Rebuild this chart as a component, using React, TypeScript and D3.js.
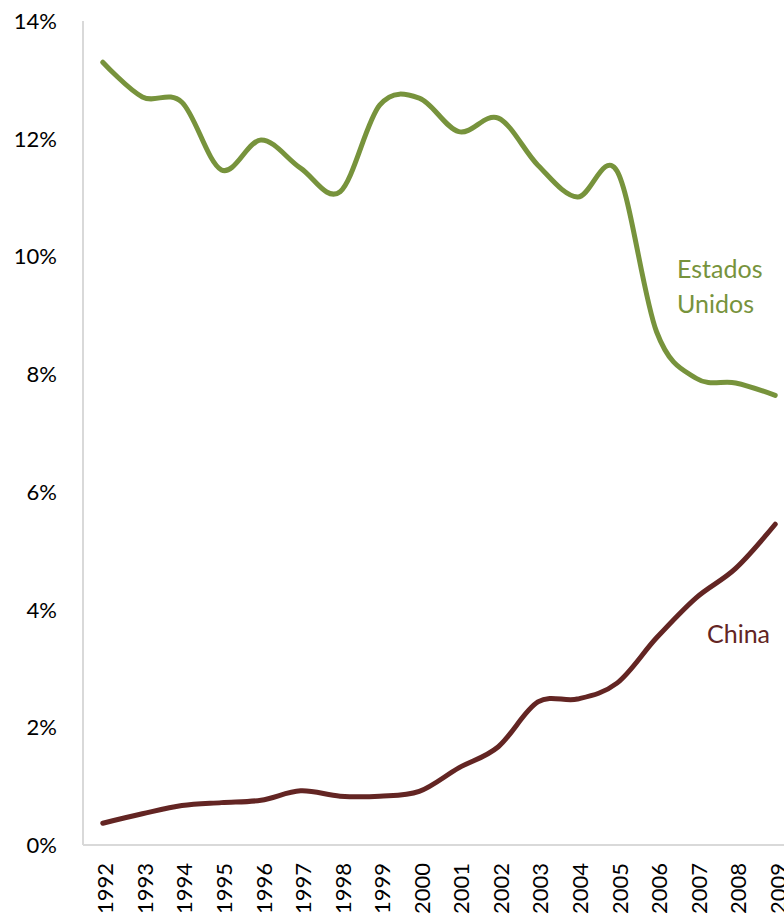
import React from "react";
import * as d3 from "d3";

const years = [1992,1993,1994,1995,1996,1997,1998,1999,2000,2001,2002,2003,2004,2005,2006,2007,2008,2009];
const estadosUnidos = [13.30,12.71,12.62,11.47,11.98,11.50,11.10,12.57,12.69,12.12,12.35,11.55,11.01,11.45,8.72,7.93,7.85,7.64];
const china = [0.37,0.53,0.67,0.72,0.76,0.92,0.83,0.83,0.91,1.31,1.67,2.43,2.48,2.75,3.52,4.20,4.70,5.45];
const yTicks = [0,2,4,6,8,10,12,14];

const W = 784, H = 918;
const FONT = "Lato, 'Open Sans', sans-serif";
const GREEN = "#77933C";
const BROWN = "#632523";

export default function App() {
  const x = d3.scaleBand<number>().domain(years).range([83, 795]);
  const cx = (yr: number) => (x(yr) as number) + x.bandwidth() / 2;
  const y = d3.scaleLinear().domain([0, 14]).range([845, 21]);
  const line = d3
    .line<number>()
    .x((_, i) => cx(years[i]))
    .y((d) => y(d))
    .curve(d3.curveCardinal.tension(0));

  return (
    <svg width={W} height={H} style={{ position: "absolute", left: 0, top: 0, background: "#fff" }}>
      <line x1={83} x2={83} y1={y(14)} y2={y(0)} stroke="#D9D9D9" strokeWidth={2} />
      <line x1={83} x2={W} y1={y(0)} y2={y(0)} stroke="#D9D9D9" strokeWidth={2} />
      {yTicks.map((t) => (
        <text key={t} x={57} y={y(t) + 8} textAnchor="end" fontFamily={FONT} fontSize={22} fill="#000">
          {t}%
        </text>
      ))}
      {years.map((yr) => (
        <text
          key={yr}
          transform={`translate(${cx(yr) + 10.5},${y(0) + 18}) rotate(-90)`}
          textAnchor="end"
          fontFamily={FONT}
          fontSize={22}
          fill="#000"
        >
          {yr}
        </text>
      ))}
      <path d={line(estadosUnidos) || ""} fill="none" stroke={GREEN} strokeWidth={5} strokeLinecap="round" strokeLinejoin="round" />
      <path d={line(china) || ""} fill="none" stroke={BROWN} strokeWidth={5} strokeLinecap="round" strokeLinejoin="round" />
      <text x={677} y={278} fontFamily={FONT} fontSize={25} fill={GREEN}>Estados</text>
      <text x={677} y={313} fontFamily={FONT} fontSize={25} fill={GREEN}>Unidos</text>
      <text x={707} y={643} fontFamily={FONT} fontSize={25} fill={BROWN}>China</text>
    </svg>
  );
}
